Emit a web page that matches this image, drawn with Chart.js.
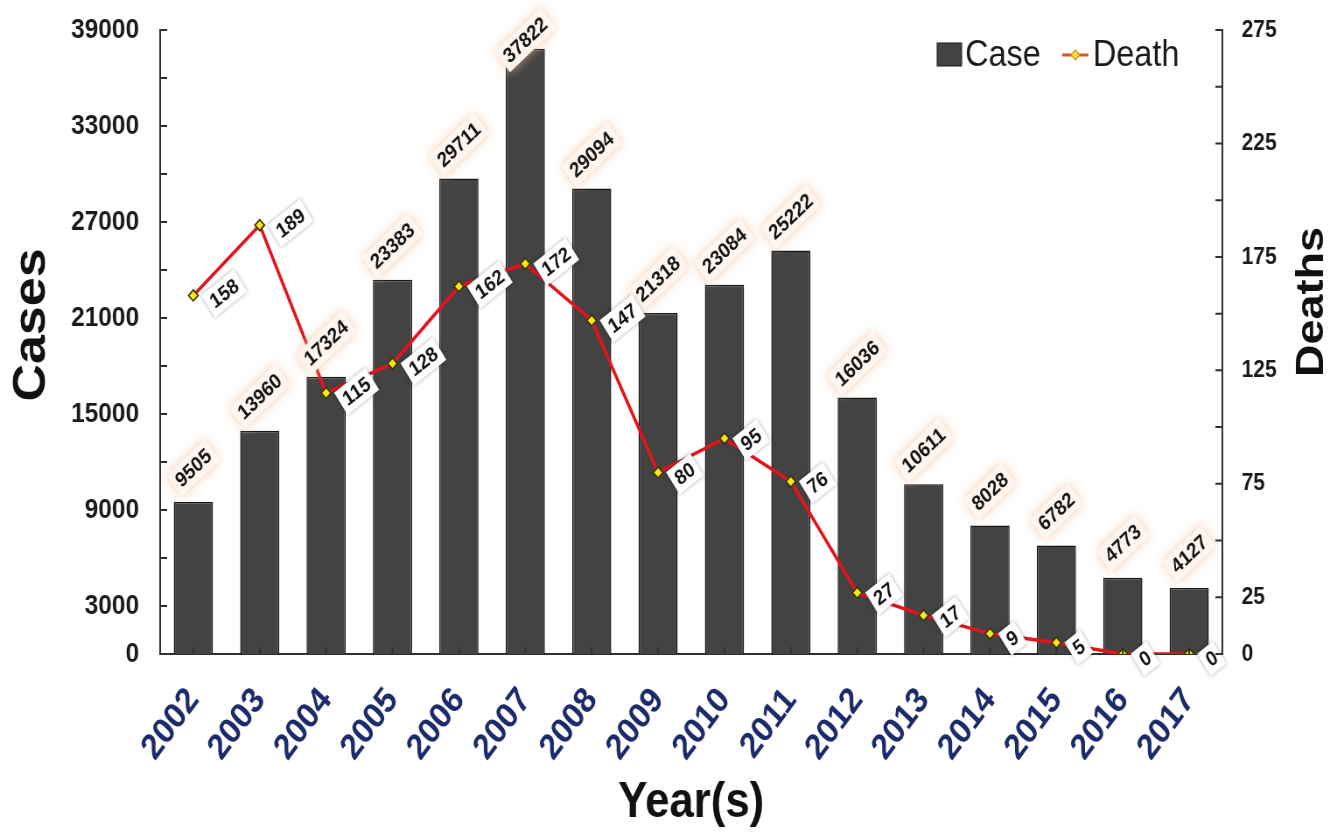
<!DOCTYPE html>
<html>
<head>
<meta charset="utf-8">
<title>Cases and Deaths, 2002-2017</title>
<script src="https://cdn.jsdelivr.net/npm/chart.js@4.4.1/dist/chart.umd.min.js"></script>
<style>
  html, body { margin: 0; padding: 0; background: #ffffff; overflow: hidden; }
  /* the figure is laid out wide and narrowed horizontally, giving the condensed lettering */
  #wrap { width: 1526px; height: 840px; transform: scaleX(0.875); transform-origin: 0 0; }
</style>
</head>
<body>
<div id="wrap"><canvas id="chart" width="1526" height="840"></canvas></div>
<script>
// ---- data ----
const years = ['2002', '2003', '2004', '2005', '2006', '2007', '2008', '2009',
               '2010', '2011', '2012', '2013', '2014', '2015', '2016', '2017'];
const cases = [9505, 13960, 17324, 23383, 29711, 37822, 29094, 21318,
               23084, 25222, 16036, 10611, 8028, 6782, 4773, 4127];
const deaths = [158, 189, 115, 128, 162, 172, 147, 80,
                95, 76, 27, 17, 9, 5, 0, 0];

// labelled ticks on each value axis (unlabelled ticks sit halfway between)
const caseTickLabels = [0, 3000, 9000, 15000, 21000, 27000, 33000, 39000];
const deathTickLabels = [0, 25, 75, 125, 175, 225, 275];

const FONT = "'Liberation Sans', Arial, Helvetica, sans-serif";
const DEG = Math.PI / 180;
const BAR_TAG_ANGLE = 40;
const POINT_TAG_ANGLE = 35;

// rotated value label with a filled backing box
function drawTag(ctx, text, cx, cy, angle, o) {
  ctx.save();
  ctx.translate(cx, cy);
  ctx.rotate(-angle * DEG);
  ctx.font = 'bold ' + o.size + 'px ' + FONT;
  const w = ctx.measureText(text).width;
  const bw = w + o.padX * 2, bh = o.size + o.padY * 2;
  ctx.shadowColor = o.glow;
  ctx.shadowBlur = o.blur;
  ctx.fillStyle = o.fill;
  ctx.fillRect(-bw / 2, -bh / 2, bw, bh);
  ctx.shadowColor = 'rgba(0,0,0,0)';
  ctx.shadowBlur = 0;
  ctx.fillStyle = '#141414';
  ctx.textAlign = 'center';
  ctx.textBaseline = 'middle';
  ctx.fillText(text, 0, 1);
  ctx.restore();
}

const valueTags = {
  id: 'valueTags',
  afterDatasetsDraw(chart) {
    const ctx = chart.ctx;
    // bar totals above each column
    const barMeta = chart.getDatasetMeta(1);
    barMeta.data.forEach((el, i) => {
      const cy = Math.max(el.y - 34, 40);
      drawTag(ctx, String(cases[i]), el.x, cy, BAR_TAG_ANGLE, {
        size: 21, padX: 5, padY: 3,
        fill: 'rgba(255,247,241,0.96)', glow: 'rgba(246,186,146,0.8)', blur: 11
      });
    });
    // death counts beside each marker
    const lineMeta = chart.getDatasetMeta(0);
    lineMeta.data.forEach((el, i) => {
      const t = String(deaths[i]);
      ctx.save();
      ctx.font = 'bold 21px ' + FONT;
      const w = ctx.measureText(t).width;
      ctx.restore();
      const cx = el.x + 21 + w * Math.cos(POINT_TAG_ANGLE * DEG) / 2;
      const cy = el.y + 1 - w * Math.sin(POINT_TAG_ANGLE * DEG) / 2 + 7;
      drawTag(ctx, t, cx, cy, POINT_TAG_ANGLE, {
        size: 21, padX: 5, padY: 3,
        fill: '#ffffff', glow: 'rgba(0,0,0,0.35)', blur: 4
      });
    });
  }
};

const axisDecor = {
  id: 'axisDecor',
  afterDraw(chart) {
    const { ctx, chartArea: a, scales } = chart;
    ctx.save();
    // inward tick marks
    ctx.strokeStyle = '#303030';
    ctx.lineWidth = 2;
    ctx.beginPath();
    scales.y.ticks.forEach(t => {
      const p = scales.y.getPixelForValue(t.value);
      ctx.moveTo(a.left, p); ctx.lineTo(a.left + 8, p);
    });
    scales.y1.ticks.forEach(t => {
      const p = scales.y1.getPixelForValue(t.value);
      ctx.moveTo(a.right, p); ctx.lineTo(a.right - 8, p);
    });
    scales.x.ticks.forEach((t, i) => {
      const p = scales.x.getPixelForTick(i);
      ctx.moveTo(p, a.bottom); ctx.lineTo(p, a.bottom - 7);
    });
    ctx.stroke();

    // vertical axis titles
    ctx.fillStyle = '#111111';
    ctx.textAlign = 'center';
    ctx.textBaseline = 'middle';
    ctx.font = 'bold 52px ' + FONT;
    ctx.save();
    ctx.translate(37, 325);
    ctx.rotate(-Math.PI / 2);
    ctx.fillText('Cases', 0, 0);
    ctx.restore();
    ctx.font = 'bold 45px ' + FONT;
    ctx.save();
    ctx.translate(1500, 302);
    ctx.rotate(-Math.PI / 2);
    ctx.fillText('Deaths', 0, 0);
    ctx.restore();

    // legend
    const barDs = chart.data.datasets[1];
    const lineDs = chart.data.datasets[0];
    ctx.textAlign = 'left';
    ctx.font = '37px ' + FONT;
    ctx.fillStyle = barDs.backgroundColor;
    ctx.fillRect(1071, 43, 28, 23);
    ctx.strokeStyle = '#1a1a1a';
    ctx.lineWidth = 1;
    ctx.strokeRect(1071, 43, 28, 23);
    ctx.fillStyle = '#1a1a1a';
    ctx.fillText(barDs.label, 1103, 56);
    ctx.strokeStyle = '#e8501e';
    ctx.lineWidth = 3;
    ctx.beginPath();
    ctx.moveTo(1214, 55); ctx.lineTo(1244, 55);
    ctx.stroke();
    ctx.beginPath();
    ctx.moveTo(1229, 50); ctx.lineTo(1234, 55); ctx.lineTo(1229, 60); ctx.lineTo(1224, 55);
    ctx.closePath();
    ctx.fillStyle = '#f7e23a';
    ctx.fill();
    ctx.strokeStyle = '#d98a16';
    ctx.lineWidth = 1.2;
    ctx.stroke();
    ctx.fillStyle = '#1a1a1a';
    ctx.fillText(lineDs.label, 1249, 56);
    ctx.restore();
  }
};

// keep the wide label gap from pushing the plot area inward
function trimEnds(s) {
  s.paddingTop = 10;
  s.paddingBottom = 10;
}

new Chart(document.getElementById('chart'), {
  type: 'bar',
  data: {
    labels: years,
    datasets: [
      {
        type: 'line',
        label: 'Death',
        data: deaths,
        yAxisID: 'y1',
        order: 0,
        borderColor: '#e5141c',
        borderWidth: 3.5,
        tension: 0,
        pointStyle: 'rectRot',
        pointRadius: 5.5,
        pointBackgroundColor: '#f6e61c',
        pointBorderColor: '#3a3500',
        pointBorderWidth: 1.6
      },
      {
        type: 'bar',
        label: 'Case',
        data: cases,
        yAxisID: 'y',
        order: 1,
        backgroundColor: '#434343',
        borderColor: '#161616',
        borderWidth: 1.5,
        categoryPercentage: 1.0,
        barPercentage: 0.59
      }
    ]
  },
  options: {
    responsive: false,
    animation: false,
    events: [],
    layout: { padding: { top: 30, left: 0, right: 0, bottom: 0 } },
    plugins: { legend: { display: false }, tooltip: { enabled: false } },
    scales: {
      x: {
        grid: { display: false, drawTicks: false },
        border: { display: true, color: '#303030', width: 2 },
        ticks: {
          color: '#1c2b6b',
          font: { family: FONT, size: 36, weight: 'bold' },
          minRotation: 50, maxRotation: 50,
          autoSkip: false,
          padding: 26
        },
        title: {
          display: true, text: 'Year(s)', color: '#111111',
          font: { family: FONT, size: 50, weight: 'bold' },
          padding: { top: 0, bottom: 7 }
        },
        afterFit(s) { s.height = 186; }
      },
      y: {
        position: 'left',
        min: 0, max: 39000,
        grid: { display: false, drawTicks: false },
        border: { display: true, color: '#303030', width: 2 },
        ticks: {
          stepSize: 3000, autoSkip: false,
          color: '#1a1a1a',
          font: { family: FONT, size: 28, weight: 'bold' },
          padding: 24,
          callback: v => caseTickLabels.includes(v) ? String(v) : ''
        },
        afterFit(s) { s.width = 183; trimEnds(s); }
      },
      y1: {
        position: 'right',
        min: 0, max: 275,
        grid: { display: false, drawTicks: false },
        border: { display: true, color: '#303030', width: 2 },
        ticks: {
          stepSize: 25, autoSkip: false,
          color: '#1a1a1a',
          font: { family: FONT, size: 24, weight: 'bold' },
          padding: 22,
          callback: v => deathTickLabels.includes(v) ? String(v) : ''
        },
        afterFit(s) { s.width = 129; trimEnds(s); }
      }
    }
  },
  plugins: [valueTags, axisDecor]
});
</script>
</body>
</html>
